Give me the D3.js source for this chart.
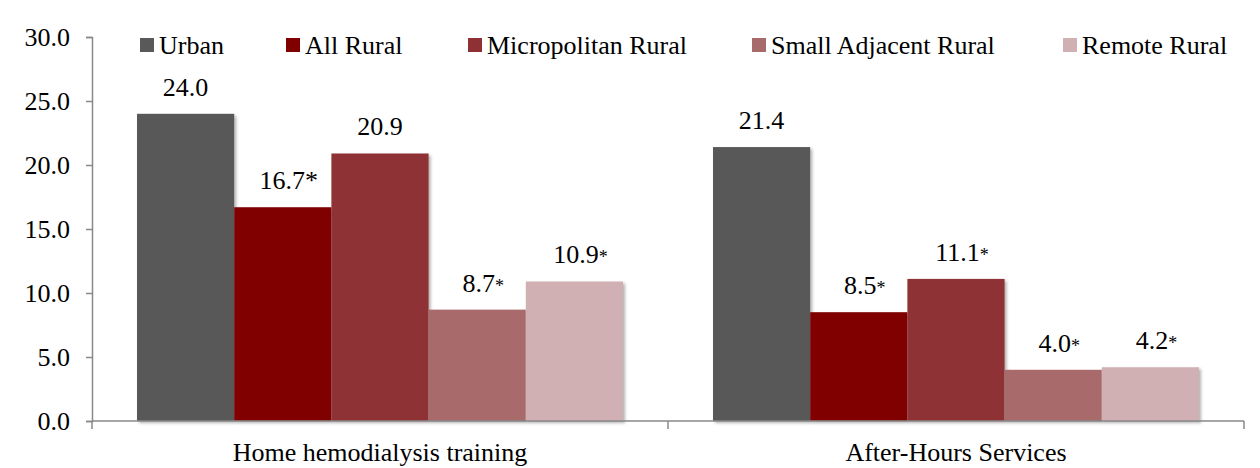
<!DOCTYPE html>
<html>
<head>
<meta charset="utf-8">
<script src="https://cdn.jsdelivr.net/npm/d3@7"></script>
<style>
  body { margin: 0; background: #fff; }
  text { font-family: "Liberation Serif", "Times New Roman", serif; fill: #000; }
</style>
</head>
<body>
<svg id="chart" width="1260" height="468"></svg>
<script>
// 데이터
var categories = ["Home hemodialysis training", "After-Hours Services"];
var series = ["Urban", "All Rural", "Micropolitan Rural", "Small Adjacent Rural", "Remote Rural"];
var colors = ["#595959", "#800000", "#8e3034", "#a86b6b", "#d0b0b2"];
// 각 카테고리별 값 (시리즈 순서)
var homeValues = [24.0, 16.7, 20.9, 8.7, 10.9];
var afterValues = [21.4, 8.5, 11.1, 4.0, 4.2];
// 유의성 표시(*)
var homeStar = [false, true, false, true, true];
var afterStar = [false, true, true, true, true];
var yTicks = [0, 5, 10, 15, 20, 25, 30];

var values = [homeValues, afterValues];
var stars = [homeStar, afterStar];

var svg = d3.select("#chart");
var FS = 26;

// 그림자 필터
var defs = svg.append("defs");
defs.append("filter").attr("id", "shadow")
    .attr("x", "-10%").attr("y", "-10%").attr("width", "130%").attr("height", "130%")
  .append("feDropShadow")
    .attr("dx", 2).attr("dy", 2).attr("stdDeviation", 1.5)
    .attr("flood-color", "#000").attr("flood-opacity", 0.3);

var mLeft = 92, mRight = 1244, mTop = 37, mBottom = 421;

var y = d3.scaleLinear().domain([0, 30]).range([mBottom, mTop]);
var x0 = d3.scaleBand().domain(categories).range([mLeft, mRight]).padding(0);
var x1 = d3.scaleBand().domain(series).range([45, x0.bandwidth() - 45]).padding(0);

// y축
var yAxis = svg.append("g")
    .attr("transform", "translate(" + mLeft + ",0)")
    .call(d3.axisLeft(y).tickValues(yTicks).tickFormat(d3.format(".1f")).tickSizeOuter(0).tickSize(6).tickPadding(16));
yAxis.select(".domain").attr("stroke", "#898989").attr("stroke-width", 1.5);
yAxis.selectAll(".tick line").attr("stroke", "#898989").attr("stroke-width", 1.5);
yAxis.selectAll(".tick text").attr("font-size", FS).attr("font-family", "Liberation Serif").attr("fill", "#000");

// 막대
var groups = svg.selectAll("g.cat")
    .data(categories)
    .enter()
    .append("g")
    .attr("class", "cat")
    .attr("transform", function(d){ return "translate(" + x0(d) + ",0)"; });

groups.each(function(cat, ci){
  var g = d3.select(this);
  var rows = series.map(function(s, i){ return {s: s, v: values[ci][i], star: stars[ci][i], i: i}; });

  g.selectAll("rect")
    .data(rows)
    .enter()
    .append("rect")
    .attr("x", function(d){ return x1(d.s); })
    .attr("y", function(d){ return y(d.v); })
    .attr("width", x1.bandwidth())
    .attr("height", function(d){ return y(0) - y(d.v); })
    .attr("fill", function(d){ return colors[d.i]; })
    .attr("filter", "url(#shadow)");

  var lbl = g.selectAll("text.val")
    .data(rows)
    .enter()
    .append("text")
    .attr("class", "val")
    .attr("x", function(d){ return x1(d.s) + x1.bandwidth() / 2 + (d.star ? 6 : 0); })
    .attr("y", function(d){ return y(d.v) - 18; })
    .attr("text-anchor", "middle")
    .attr("font-size", FS);
  lbl.append("tspan").text(function(d){ return d.v.toFixed(1); });
  lbl.append("tspan")
    .attr("font-size", function(d){ return (ci === 0 && d.i === 1) ? FS : 18; })
    .text(function(d){ return d.star ? "*" : ""; });
});

// x축
var xAxis = svg.append("g")
    .attr("transform", "translate(0," + mBottom + ")");
xAxis.append("line")
    .attr("x1", mLeft).attr("x2", mRight)
    .attr("stroke", "#898989").attr("stroke-width", 1.5);
var xBounds = [mLeft].concat(categories.map(function(c){ return x0(c) + x0.bandwidth(); }));
xAxis.selectAll("line.sep")
    .data(xBounds)
    .enter()
    .append("line")
    .attr("class", "sep")
    .attr("x1", function(d){ return d; }).attr("x2", function(d){ return d; })
    .attr("y1", 0).attr("y2", 8)
    .attr("stroke", "#898989").attr("stroke-width", 1.5);
xAxis.selectAll("text")
    .data(categories)
    .enter()
    .append("text")
    .attr("x", function(d){ return x0(d) + x0.bandwidth() / 2; })
    .attr("y", 40)
    .attr("text-anchor", "middle")
    .attr("font-size", FS)
    .text(function(d){ return d; });

// 범례
var legendX = [140, 286, 468, 752, 1063];
var legend = svg.selectAll("g.legend")
    .data(series)
    .enter()
    .append("g")
    .attr("class", "legend")
    .attr("transform", function(d, i){ return "translate(" + legendX[i] + ",38)"; });
legend.append("rect")
    .attr("width", 14).attr("height", 14)
    .attr("fill", function(d, i){ return colors[i]; });
legend.append("text")
    .attr("x", 19).attr("y", 16)
    .attr("font-size", FS)
    .text(function(d){ return d; });
</script>
</body>
</html>
